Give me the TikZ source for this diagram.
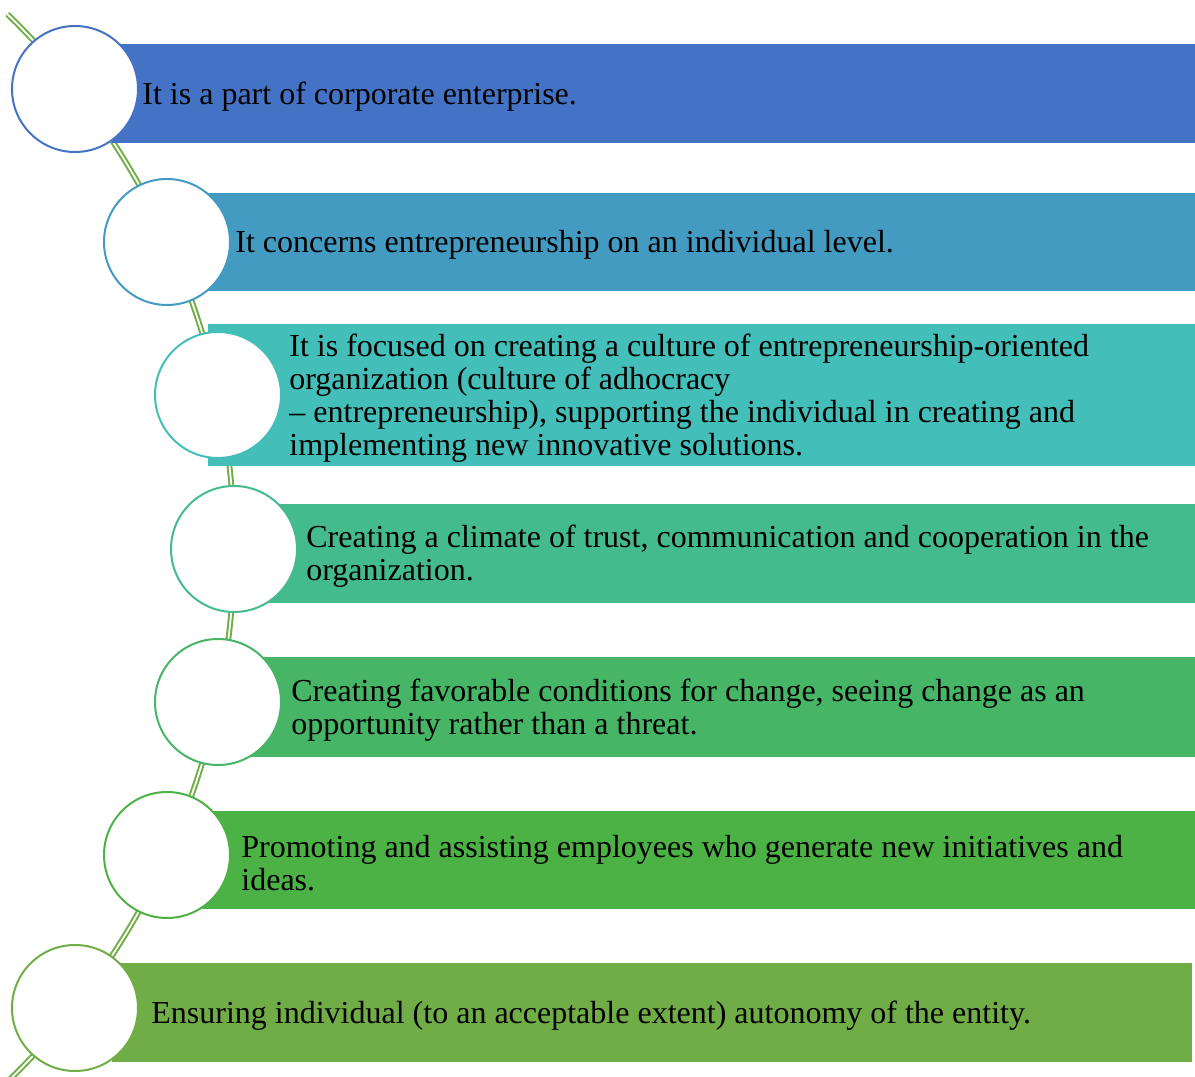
\documentclass[tikz,border=0pt]{standalone}
\usepackage{fontspec}
\setmainfont{Liberation Serif}
\usetikzlibrary{positioning}
\definecolor{barA}{HTML}{4472C4}
\definecolor{barB}{HTML}{439BC2}
\definecolor{barC}{HTML}{43BEB8}
\definecolor{barD}{HTML}{44BB8D}
\definecolor{barE}{HTML}{46B566}
\definecolor{barF}{HTML}{4CB245}
\definecolor{barG}{HTML}{70AD47}
\definecolor{spineGreen}{HTML}{70AD47}

\begin{document}
\begin{tikzpicture}[x=0.5pt, y=0.5pt,
  bar/.style={rectangle, inner sep=0pt, anchor=north west},
  dot/.style={circle, draw, fill=white, line width=1pt, minimum size=63pt, inner sep=0pt},
  txt/.style={anchor=west, align=left, inner sep=0pt, font=\fontsize{16}{16.5}\selectfont},
  spine/.style={draw=spineGreen, double=white, line width=1pt, double distance=0.9pt}]
  \useasboundingbox (0,0) rectangle (1195,1077);

  % curved spine behind everything
  \coordinate (hub) at (-508,529);
  \draw[spine] (hub) ++(46:371pt) arc[start angle=46, end angle=-46, radius=371pt];

  % bars
  \node[bar, fill=barA, minimum width=541.5pt, minimum height=49.5pt] (bar1) at (112,1033) {};
  \node[bar, fill=barB, minimum width=497.5pt, minimum height=49pt] (bar2) at (200,884) {};
  \node[bar, fill=barC, minimum width=493.5pt, minimum height=71pt] (bar3) at (208,753) {};
  \node[bar, fill=barD, minimum width=477.5pt, minimum height=49.5pt] (bar4) at (240,573) {};
  \node[bar, fill=barE, minimum width=487.5pt, minimum height=50pt] (bar5) at (220,420) {};
  \node[bar, fill=barF, minimum width=512.5pt, minimum height=49pt] (bar6) at (170,266) {};
  \node[bar, fill=barG, minimum width=540pt, minimum height=49.5pt] (bar7) at (112,114) {};

  % circles on the spine
  \node[dot, draw=barA] (dot1) at (75,988) {};
  \node[dot, draw=barB] (dot2) at (167,835) {};
  \node[dot, draw=barC] (dot3) at (218,682) {};
  \node[dot, draw=barD] (dot4) at (234,528) {};
  \node[dot, draw=barE] (dot5) at (218,375) {};
  \node[dot, draw=barF] (dot6) at (167,222) {};
  \node[dot, draw=barG] (dot7) at (75,69) {};

  % texts
  \node[txt] (txt1) at (142,980.5) {It is a part of corporate enterprise.};
  \node[txt] (txt2) at (235,832) {It concerns entrepreneurship on an individual level.};
  \node[txt] (txt3) at (289,679) {It is focused on creating a culture of entrepreneurship-oriented\\organization (culture of adhocracy\\– entrepreneurship), supporting the individual in creating and\\implementing new innovative solutions.};
  \node[txt] (txt4) at (306,520.5) {Creating a climate of trust, communication and cooperation in the\\organization.};
  \node[txt] (txt5) at (291,367) {Creating favorable conditions for change, seeing change as an\\opportunity rather than a threat.};
  \node[txt] (txt6) at (241,214) {Promoting and assisting employees who generate new initiatives and\\ideas.};
  \node[txt] (txt7) at (151,61.5) {Ensuring individual (to an acceptable extent) autonomy of the entity.};
\end{tikzpicture}
\end{document}
